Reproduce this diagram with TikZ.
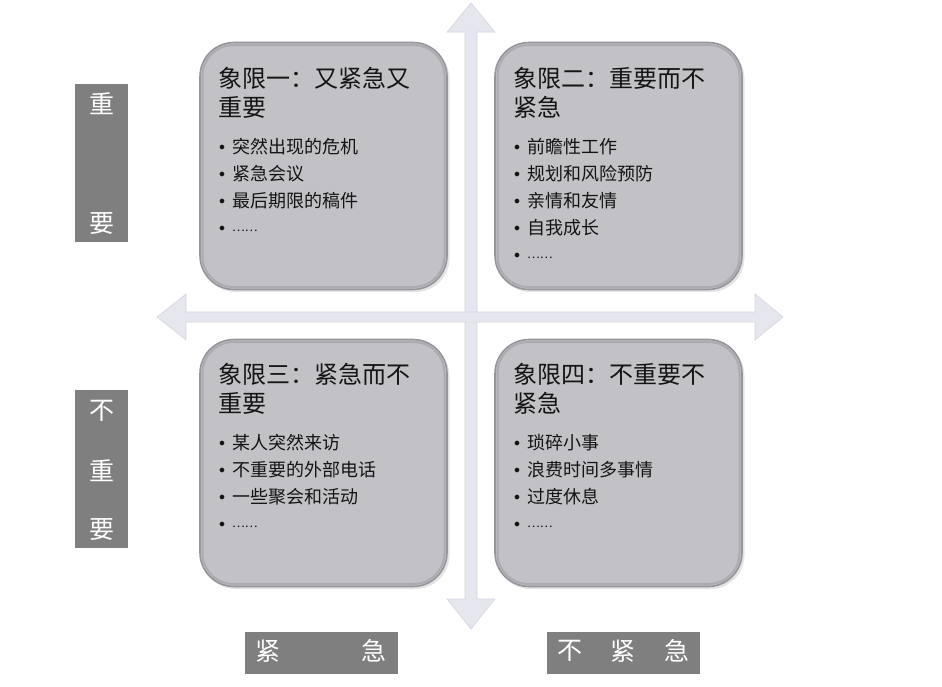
\documentclass[tikz,border=0pt]{standalone}
\usepackage{fontspec}
\setmainfont{Noto Sans CJK SC}
\definecolor{boxfill}{RGB}{194,193,198}
\definecolor{boxedge}{RGB}{150,149,155}
\definecolor{boxrim}{RGB}{172,171,177}
\definecolor{axisfill}{RGB}{230,230,239}
\definecolor{axisedge}{RGB}{214,214,225}
\definecolor{lblfill}{RGB}{127,127,127}
\definecolor{txt}{RGB}{20,20,20}
\tikzset{
  quad/.style={draw=boxedge, line width=1.6pt, fill=boxfill, rounded corners=34pt,
    minimum width=247pt, minimum height=247pt, inner sep=0pt},
  quadtitle/.style={anchor=base west, inner sep=0pt, text width=225pt, align=left,
    font=\fontsize{24pt}{29.5pt}\selectfont, text=txt},
  quaditems/.style={anchor=base west, inner sep=0pt, text width=225pt, align=left,
    font=\fontsize{18pt}{27pt}\selectfont, text=txt},
  lblbox/.style={fill=lblfill, draw=none, inner sep=0pt},
  lblchar/.style={text=white, inner sep=0pt, font=\fontsize{25pt}{25pt}\selectfont},
  axis/.style={fill=axisfill, draw=axisedge, line width=0.6pt, line join=miter}
}
\newcommand{\itm}[1]{\makebox[13pt][l]{\fontsize{12pt}{12pt}\selectfont\raisebox{3pt}{$\bullet$}}#1}
\newcommand{\dotsitem}{\makebox[13pt][l]{\fontsize{12pt}{12pt}\selectfont\raisebox{3pt}{$\bullet$}}\raisebox{2.5pt}{\fontsize{12pt}{12pt}\selectfont ……}}
\begin{document}
\begin{tikzpicture}[x=1pt,y=-1pt]
\useasboundingbox (0,0) rectangle (942,686);
\fill[white] (0,0) rectangle (942,686);

% axes
\draw[axis] (465,32) -- (447,32) -- (471,3) -- (495,32) -- (477,32)
  -- (477,599) -- (495,599) -- (471,629) -- (447,599) -- (465,599) -- cycle;
\draw[axis] (186,312) -- (186,294) -- (157,317) -- (186,340) -- (186,322)
  -- (755,322) -- (755,340) -- (783,317) -- (755,294) -- (755,312) -- cycle;
\fill[axisfill] (465.5,312.5) rectangle (476.5,321.5);

% quadrant boxes
\foreach \n/\cx/\cy in {q1/323.5/166, q2/618.5/166, q3/323.5/463, q4/618.5/463}{
  \fill[gray!60, opacity=0.35, rounded corners=34pt]
    (\cx-122,\cy-121) rectangle (\cx+126,\cy+126);
  \node[quad] (\n) at (\cx,\cy) {};
  \draw[boxrim, line width=2pt, rounded corners=31pt]
    (\cx-121,\cy-121) rectangle (\cx+121,\cy+121);
  \fill[boxfill, rounded corners=29pt]
    (\cx-119,\cy-119) rectangle (\cx+119,\cy+119);
}

% quadrant texts
\node[quadtitle] (t1) at (218,87) {象限一：又紧急又\\重要};
\node[quaditems] (i1) at (219,153) {\itm{突然出现的危机}\\\itm{紧急会议}\\\itm{最后期限的稿件}\\\dotsitem};

\node[quadtitle] (t2) at (513,87) {象限二：重要而不\\紧急};
\node[quaditems] (i2) at (514,153) {\itm{前瞻性工作}\\\itm{规划和风险预防}\\\itm{亲情和友情}\\\itm{自我成长}\\\dotsitem};

\node[quadtitle] (t3) at (218,383) {象限三：紧急而不\\重要};
\node[quaditems] (i3) at (219,449) {\itm{某人突然来访}\\\itm{不重要的外部电话}\\\itm{一些聚会和活动}\\\dotsitem};

\node[quadtitle] (t4) at (513,383) {象限四：不重要不\\紧急};
\node[quaditems] (i4) at (514,449) {\itm{琐碎小事}\\\itm{浪费时间多事情}\\\itm{过度休息}\\\dotsitem};

% side labels
\node[lblbox, minimum width=53pt, minimum height=158pt] (L1) at (101.5,163) {};
\node[lblchar] (L1a) at (101.5,104) {重};
\node[lblchar] (L1b) at (101.5,224) {要};

\node[lblbox, minimum width=53pt, minimum height=158pt] (L2) at (101.5,469) {};
\node[lblchar] (L2a) at (101.5,411) {不};
\node[lblchar] (L2b) at (101.5,471) {重};
\node[lblchar] (L2c) at (101.5,530) {要};

% bottom labels
\node[lblbox, minimum width=153pt, minimum height=42pt] (B1) at (321.5,653) {};
\node[lblchar] (B1a) at (268,651) {紧};
\node[lblchar] (B1b) at (374,651) {急};

\node[lblbox, minimum width=153pt, minimum height=42pt] (B2) at (623,653) {};
\node[lblchar] (B2a) at (570,651) {不};
\node[lblchar] (B2b) at (623,651) {紧};
\node[lblchar] (B2c) at (677,651) {急};
\end{tikzpicture}
\end{document}
